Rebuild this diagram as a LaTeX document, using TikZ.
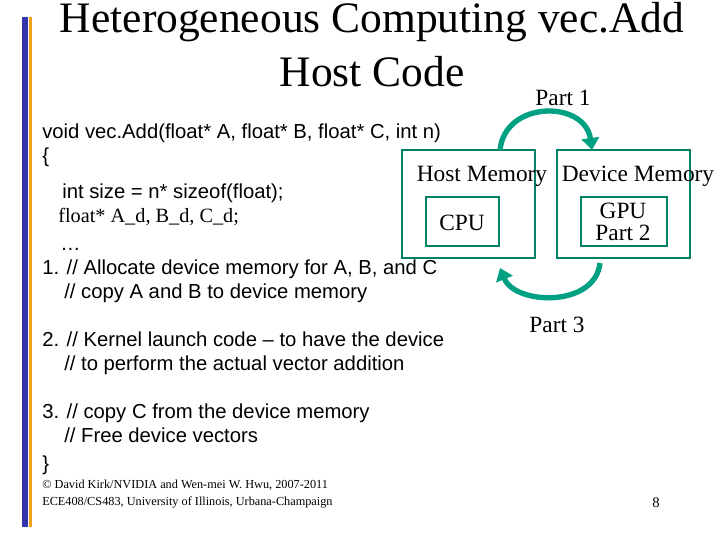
\documentclass[tikz,border=0pt]{standalone}
\usepackage{fontspec}
\setmainfont{Liberation Serif}
\newfontfamily\codefont{Liberation Sans}
\usetikzlibrary{arrows.meta}
\definecolor{boxgreen}{RGB}{0,128,100}
\definecolor{arrgreen}{RGB}{0,160,130}
\definecolor{barblue}{RGB}{51,51,170}
\definecolor{barorange}{RGB}{240,160,30}
\tikzset{
  code/.style={anchor=base west, inner sep=0pt, font=\codefont\fontsize{15.2}{17}\selectfont},
  serifcode/.style={anchor=base west, inner sep=0pt, font=\fontsize{15.2}{17}\selectfont},
  lbl/.style={inner sep=0pt, font=\fontsize{17.5}{19}\selectfont},
  mem/.style={draw=boxgreen, line width=2.2pt},
  flow/.style={arrgreen, line width=4pt, -{Triangle[length=9pt,width=13pt]}}
}
\begin{document}
\begin{tikzpicture}[x=0.75pt,y=-0.75pt]
  \useasboundingbox (0,0) rectangle (720,540);
  \fill[barblue] (22,17) rectangle (28,527);
  \fill[barorange] (29,17) rectangle (32,527);
  \node[inner sep=0pt, font=\fontsize{32.6}{36}\selectfont] (title1) at (372,22) {Heterogeneous Computing vec.Add};
  \node[inner sep=0pt, font=\fontsize{32.6}{36}\selectfont] (title2) at (372,72) {Host Code};
  \node[lbl] (part1) at (563,98) {Part 1};
  % code lines
  \node[code] (l1) at (42,138) {void vec.Add(float* A, float* B, float* C, int n)};
  \node[code] (l2) at (42,162) {\{};
  \node[code] (l3) at (62,198) {int size = n* sizeof(float);};
  \node[serifcode] (l4) at (58,222) {float* A\_d, B\_d, C\_d;};
  \node[code] (l5) at (60,250) {\dots};
  \node[code] (l6) at (42,274) {1. // Allocate device memory for A, B, and C};
  \node[code] (l7) at (64,298) {// copy A and B to device memory};
  \node[code] (l8) at (42,346) {2. // Kernel launch code – to have the device};
  \node[code] (l9) at (64,370) {// to perform the actual vector addition};
  \node[code] (l10) at (42,418) {3. // copy C from the device memory};
  \node[code] (l11) at (64,442) {// Free device vectors};
  \node[code] (l12) at (42,470) {\}};
  % memory boxes
  \draw[mem] (402,150) rectangle (535,258);
  \draw[mem] (426,197) rectangle (499,246);
  \draw[mem] (557,150) rectangle (690,258);
  \draw[mem] (581,197) rectangle (667,246);
  \node[lbl] (host) at (482,176) {Host Memory};
  \node[lbl] (dev) at (638,176) {Device Memory};
  \node[lbl] (cpu) at (462,223) {CPU};
  \node[lbl, align=center] (gpu) at (623,222) {GPU\\[-3pt]Part 2};
  \node[lbl] (part3) at (557,325) {Part 3};
  % transfers
  \coordinate (p1s) at (500,150);
  \coordinate (p1e) at (592,150);
  \coordinate (p3s) at (600,263);
  \coordinate (p3e) at (500,268);
  \draw[flow] (p1s) .. controls (505,100) and (585,100) .. (p1e);
  \draw[flow] (p3s) .. controls (595,308) and (515,305) .. (p3e);
  % footer
  \node[anchor=base west, inner sep=0pt, font=\fontsize{9.2}{12.5}\selectfont, align=left] (foot) at (42,505)
    {\textcopyright{} David Kirk/NVIDIA and Wen-mei W. Hwu, 2007-2011\\ECE408/CS483, University of Illinois, Urbana-Champaign};
  \node[inner sep=0pt, font=\fontsize{11}{13}\selectfont] (page) at (656,503) {8};
\end{tikzpicture}
\end{document}
